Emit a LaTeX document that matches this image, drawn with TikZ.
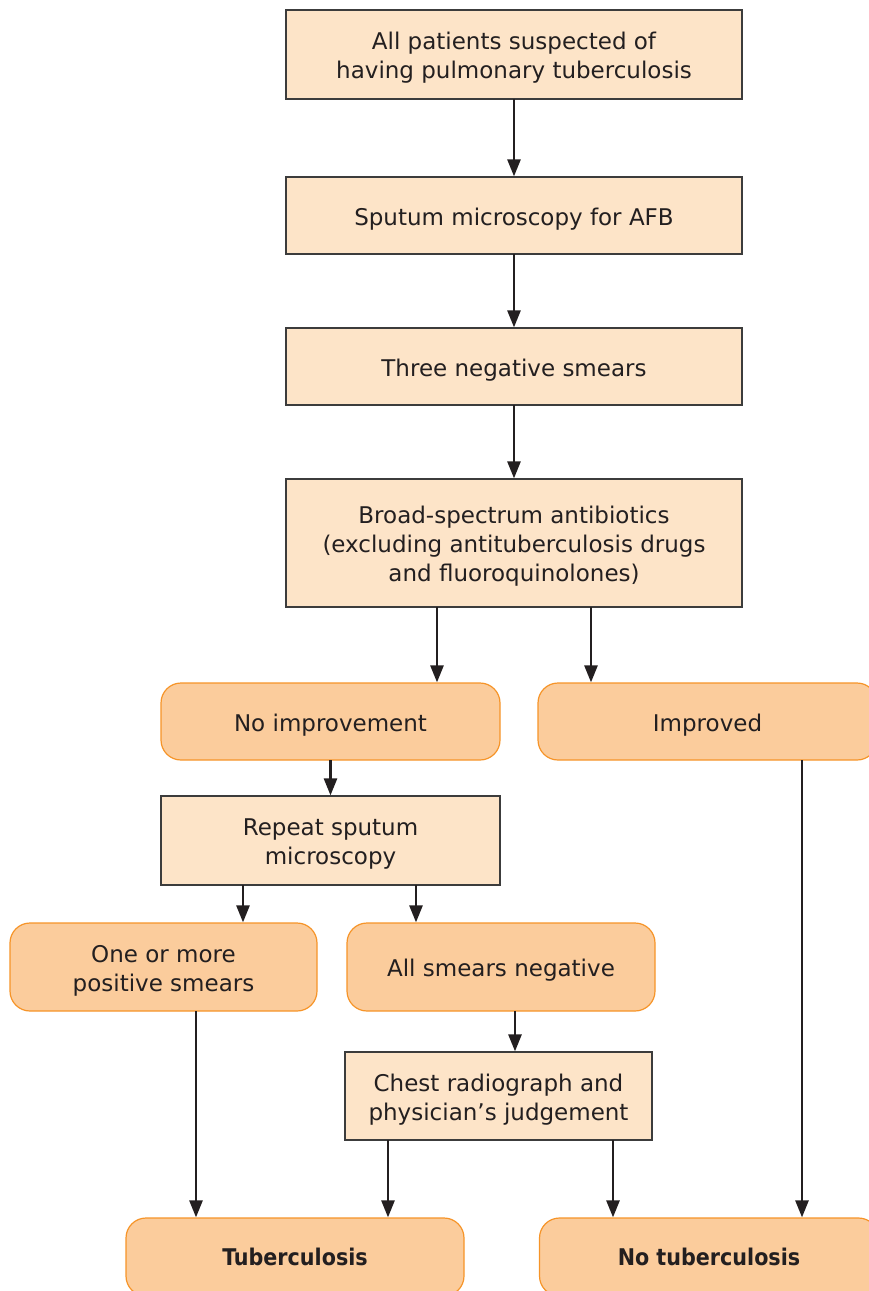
\documentclass[tikz,border=0pt]{standalone}
\usepackage{fontspec}
\setmainfont{DejaVu Sans}
\newfontfamily\condfont{DejaVu Sans Condensed}
\usetikzlibrary{arrows.meta}
\definecolor{sqfill}{RGB}{253,228,200}
\definecolor{rfill}{RGB}{251,204,156}
\definecolor{rline}{RGB}{246,148,40}
\definecolor{bline}{RGB}{60,60,60}
\definecolor{ink}{RGB}{35,31,32}
\newcommand{\topstrut}{\rule{0pt}{12pt}}
\begin{document}
\begin{tikzpicture}[x=0.5pt,y=-0.5pt,
  every node/.style={font=\fontsize{11.5}{14.5}\selectfont, text=ink, align=center, inner sep=0pt, outer sep=0pt},
  sqbox/.style={draw=bline, fill=sqfill, line width=0.7pt},
  rbox/.style={draw=rline, fill=rfill, line width=0.6pt, rounded corners=10pt},
  arr/.style={draw=ink, line width=1.3pt, -{Triangle[length=8.5pt,width=6.5pt]}, shorten >=0.3pt}]
\useasboundingbox (0,0) rectangle (868,1291);

\node[sqbox, minimum width=228pt, minimum height=44.5pt] (top) at (514,54.5)
  {\topstrut All patients suspected of\\having pulmonary tuberculosis};
\node[sqbox, minimum width=228pt, minimum height=38.5pt] (sput) at (514,215.5)
  {\topstrut Sputum microscopy for AFB};
\node[sqbox, minimum width=228pt, minimum height=38.5pt] (three) at (514,366.5)
  {\topstrut Three negative smears};
\node[sqbox, minimum width=228pt, minimum height=64pt] (broad) at (514,543)
  {\topstrut Broad-spectrum antibiotics\\(excluding antituberculosis drugs\\and fluoroquinolones)};
\node[rbox, minimum width=169.5pt, minimum height=38.5pt] (noimp) at (330.5,721.5)
  {\topstrut No improvement};
\node[rbox, minimum width=169.5pt, minimum height=38.5pt] (impr) at (707.5,721.5)
  {\topstrut Improved};
\node[sqbox, minimum width=169.5pt, minimum height=44.5pt] (rep) at (330.5,840.5)
  {\topstrut Repeat sputum\\microscopy};
\node[rbox, minimum width=153.5pt, minimum height=44pt] (pos) at (163.5,967)
  {\topstrut One or more\\positive smears};
\node[rbox, minimum width=154pt, minimum height=44pt] (neg) at (501,967)
  {\topstrut All smears negative};
\node[sqbox, minimum width=153.5pt, minimum height=44pt] (chest) at (498.5,1096)
  {\topstrut Chest radiograph and\\physician's judgement};
\node[rbox, minimum width=169pt, minimum height=39pt] (tb) at (295,1257)
  {{\condfont\bfseries Tuberculosis}};
\node[rbox, minimum width=169.5pt, minimum height=39pt] (notb) at (709,1257)
  {{\condfont\bfseries No tuberculosis}};

\draw[arr] (top.south) -- (sput.north);
\draw[arr] (sput.south) -- (three.north);
\draw[arr] (three.south) -- (broad.north);
\draw[arr] ([xshift=-38.5pt]broad.south) -- ([xshift=-38.5pt]broad.south |- noimp.north);
\draw[arr] ([xshift=38.5pt]broad.south) -- ([xshift=38.5pt]broad.south |- impr.north);
\draw[arr] (noimp.south) -- (rep.north);
\draw[arr] ([xshift=-43.75pt]rep.south) -- ([xshift=-43.75pt]rep.south |- pos.north);
\draw[arr] ([xshift=42.75pt]rep.south) -- ([xshift=42.75pt]rep.south |- neg.north);
\draw[arr] ([xshift=7pt]neg.south) -- ([xshift=7pt]neg.south |- chest.north);
\draw[arr] ([xshift=16.25pt]pos.south) -- ([xshift=16.25pt]pos.south |- tb.north);
\draw[arr] ([xshift=-55.25pt]chest.south) -- ([xshift=-55.25pt]chest.south |- tb.north);
\draw[arr] ([xshift=57.25pt]chest.south) -- ([xshift=57.25pt]chest.south |- notb.north);
\draw[arr] ([xshift=47.25pt]impr.south) -- ([xshift=47.25pt]impr.south |- notb.north);
\end{tikzpicture}
\end{document}
